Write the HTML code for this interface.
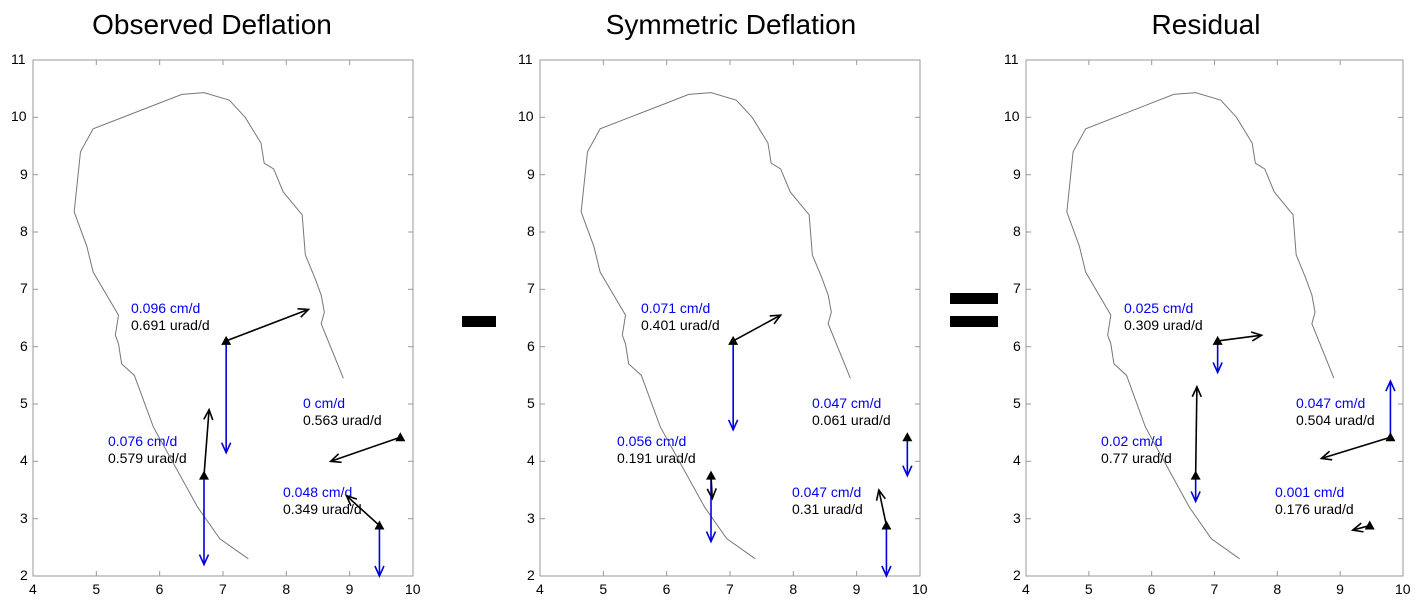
<!DOCTYPE html>
<html><head><meta charset="utf-8"><style>
body{margin:0;background:#fff;width:1417px;height:604px;overflow:hidden;position:relative;font-family:"Liberation Sans",Arial,sans-serif}
.t{position:absolute;font-size:28px;color:#000;white-space:nowrap;transform:translateX(-50%);top:9px}
.l{position:absolute;font-size:14px;white-space:nowrap;line-height:17px}
.b{color:#0000ee}
.tk{position:absolute;font-size:14px;color:#000;white-space:nowrap}
.bar{position:absolute;background:#000}
svg{position:absolute;left:0;top:0}
</style></head><body>
<div class="t" style="left:212px">Observed Deflation</div>
<div class="t" style="left:731px">Symmetric Deflation</div>
<div class="t" style="left:1206px">Residual</div>
<div class="bar" style="left:462px;top:316px;width:34px;height:11px"></div>
<div class="bar" style="left:950px;top:293px;width:48px;height:11px"></div>
<div class="bar" style="left:950px;top:316px;width:48px;height:11px"></div>

<div class="l" style="left:131px;top:300px"><span class="b">0.096 cm/d</span><br>0.691 urad/d</div>
<div class="l" style="left:108px;top:433px"><span class="b">0.076 cm/d</span><br>0.579 urad/d</div>
<div class="l" style="left:303px;top:395px"><span class="b">0 cm/d</span><br>0.563 urad/d</div>
<div class="l" style="left:283px;top:484px"><span class="b">0.048 cm/d</span><br>0.349 urad/d</div>

<div class="l" style="left:641px;top:300px"><span class="b">0.071 cm/d</span><br>0.401 urad/d</div>
<div class="l" style="left:617px;top:433px"><span class="b">0.056 cm/d</span><br>0.191 urad/d</div>
<div class="l" style="left:812px;top:395px"><span class="b">0.047 cm/d</span><br>0.061 urad/d</div>
<div class="l" style="left:792px;top:484px"><span class="b">0.047 cm/d</span><br>0.31 urad/d</div>

<div class="l" style="left:1124px;top:300px"><span class="b">0.025 cm/d</span><br>0.309 urad/d</div>
<div class="l" style="left:1101px;top:433px"><span class="b">0.02 cm/d</span><br>0.77 urad/d</div>
<div class="l" style="left:1296px;top:395px"><span class="b">0.047 cm/d</span><br>0.504 urad/d</div>
<div class="l" style="left:1275px;top:484px"><span class="b">0.001 cm/d</span><br>0.176 urad/d</div>

<div id="ticks"></div>
<svg id="s" width="1417" height="604" xmlns="http://www.w3.org/2000/svg"></svg>
<script>
var S=document.getElementById('s'),T=document.getElementById('ticks');
var panels=[{L:33,R:413},{L:540,R:920},{L:1026,R:1403}];
var TOP=60,BOT=576;
function Y(v){return BOT-(v-2)*(BOT-TOP)/9}
var outline=[[7.4,2.3],[6.95,2.65],[6.6,3.2],[5.9,4.6],[5.6,5.5],[5.4,5.7],[5.35,6.05],[5.3,6.2],[5.35,6.55],[4.95,7.3],[4.85,7.75],[4.65,8.35],[4.75,9.4],[4.95,9.8],[6.35,10.4],[6.7,10.43],[7.1,10.3],[7.35,10.0],[7.6,9.55],[7.65,9.2],[7.8,9.1],[7.95,8.7],[8.25,8.3],[8.3,7.6],[8.45,7.2],[8.55,6.9],[8.6,6.6],[8.55,6.4],[8.9,5.45]];
var data=[
 [[7.05,6.1,8.35,6.65,7.05,4.15],[6.7,3.75,6.78,4.9,6.7,2.2],[9.8,4.42,8.7,4.0,null,null],[9.47,2.88,8.95,3.4,9.47,2.0]],
 [[7.05,6.1,7.8,6.55,7.05,4.55],[6.7,3.75,6.72,3.35,6.7,2.6],[9.8,4.42,9.8,4.42,9.8,3.75],[9.47,2.88,9.35,3.5,9.47,2.0]],
 [[7.05,6.1,7.75,6.2,7.05,5.55],[6.7,3.75,6.72,5.3,6.7,3.3],[9.8,4.42,8.7,4.05,9.8,5.4],[9.47,2.88,9.2,2.8,9.47,2.88]]
];
var h='';
function arrow(x1,y1,x2,y2,c){
 var dx=x2-x1,dy=y2-y1,len=Math.hypot(dx,dy);if(len<3)return '';
 var ux=dx/len,uy=dy/len,a=10,w=4.5;
 var bx=x2-ux*a,by=y2-uy*a;
 return '<line x1="'+x1+'" y1="'+y1+'" x2="'+x2+'" y2="'+y2+'" stroke="'+c+'" stroke-width="1.6"/>'+
 '<polyline points="'+(bx-uy*w)+','+(by+ux*w)+' '+x2+','+y2+' '+(bx+uy*w)+','+(by-ux*w)+'" fill="none" stroke="'+c+'" stroke-width="1.6"/>';
}
var th='';
panels.forEach(function(p,i){
 var sx=(p.R-p.L)/6;function X(v){return p.L+(v-4)*sx}
 h+='<rect x="'+p.L+'" y="'+TOP+'" width="'+(p.R-p.L)+'" height="'+(BOT-TOP)+'" fill="none" stroke="#999" stroke-width="1"/>';
 for(var k=0;k<=6;k++){var x=X(4+k);
  h+='<line x1="'+x+'" y1="'+BOT+'" x2="'+x+'" y2="'+(BOT-5)+'" stroke="#999"/><line x1="'+x+'" y1="'+TOP+'" x2="'+x+'" y2="'+(TOP+5)+'" stroke="#999"/>';
  th+='<div class="tk" style="left:'+(x-(k==6?8:4))+'px;top:581px">'+(4+k)+'</div>';}
 for(var k=2;k<=11;k++){var y=Y(k);
  h+='<line x1="'+p.L+'" y1="'+y+'" x2="'+(p.L+5)+'" y2="'+y+'" stroke="#999"/><line x1="'+p.R+'" y1="'+y+'" x2="'+(p.R-5)+'" y2="'+y+'" stroke="#999"/>';
  th+='<div class="tk" style="left:'+(p.L-(k>=10?22:13))+'px;top:'+(y-9)+'px">'+k+'</div>';}
 h+='<polyline points="'+outline.map(function(q){return X(q[0])+','+Y(q[1])}).join(' ')+'" fill="none" stroke="#777" stroke-width="1"/>';
 data[i].forEach(function(d){
  var x0=X(d[0]),y0=Y(d[1]);
  if(d[4]!==null)h+=arrow(x0,y0,X(d[4]),Y(d[5]),'#0000dd');
  h+=arrow(x0,y0,X(d[2]),Y(d[3]),'#000');
  h+='<polygon points="'+x0+','+(y0-5)+' '+(x0-5)+','+(y0+4)+' '+(x0+5)+','+(y0+4)+'" fill="#000"/>';
 });
});
S.innerHTML=h;T.innerHTML=th;
</script>
</body></html>
